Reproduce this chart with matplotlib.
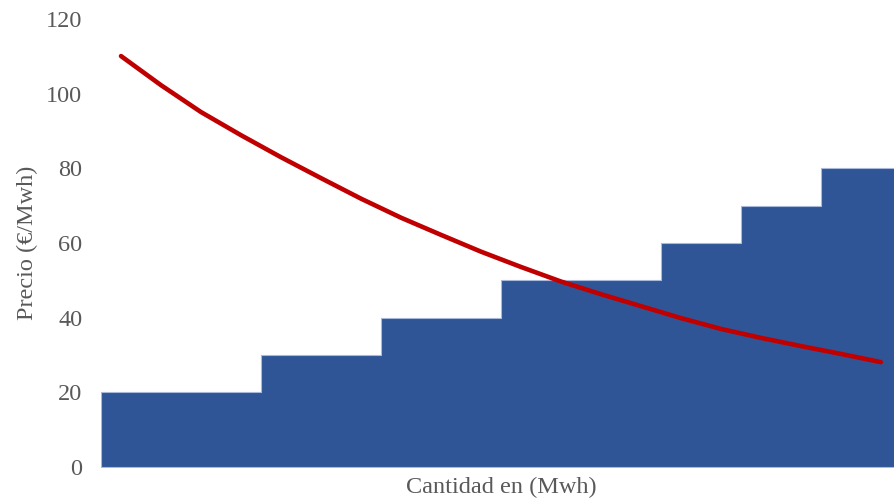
import matplotlib.pyplot as plt
import numpy as np

plt.rcParams["font.family"] = ["Liberation Serif", "DejaVu Serif"]

# supply blocks: number of slots each price level covers, and the price
block_widths = [4, 3, 3, 4, 2, 2, 2]
block_prices = [20, 30, 40, 50, 60, 70, 80]

# demand curve, one point per slot (slot centres)
demand_price = [110.1, 102.3, 95.1, 88.9, 83.0, 77.4, 71.9, 66.8, 62.2, 57.7,
                53.6, 49.7, 46.3, 43.1, 39.9, 37.0, 34.6, 32.4, 30.3, 28.1]

y_ticks = [0, 20, 40, 60, 80, 100, 120]

BLUE = "#2F5597"
RED = "#C00000"
GREY = "#595959"

fig = plt.figure(figsize=(8.94, 5.03), dpi=100)
ax = fig.add_axes([0.113, 0.0716, 0.887, 0.8904])

edges = np.concatenate([[0], np.cumsum(block_widths)])
step_y = block_prices + [block_prices[-1]]
ax.fill_between(edges, 0, step_y, step="post", color=BLUE,
                edgecolor="#A9B9DC", linewidth=0.8, zorder=2)

x_dem = np.arange(len(demand_price)) + 0.5
ax.plot(x_dem, demand_price, color=RED, linewidth=3.3,
        solid_capstyle="round", solid_joinstyle="round", zorder=3)

ax.set_xlim(0, 19.83)
ax.set_ylim(0, 120)
ax.set_yticks(y_ticks)
ax.set_xticks([])
ax.tick_params(axis="y", length=0, pad=13.5, labelsize=17.5, labelcolor=GREY)
for s in ax.spines.values():
    s.set_visible(False)

ax.set_ylabel("Precio (€/Mwh)", fontsize=17.5, color=GREY, labelpad=6)
fig.text(0.5 * (101 + 901) / 894, 0.03, "Cantidad en (Mwh)", fontsize=17.5,
         color=GREY, ha="center", va="center")

fig.savefig("out.png", dpi=100)
